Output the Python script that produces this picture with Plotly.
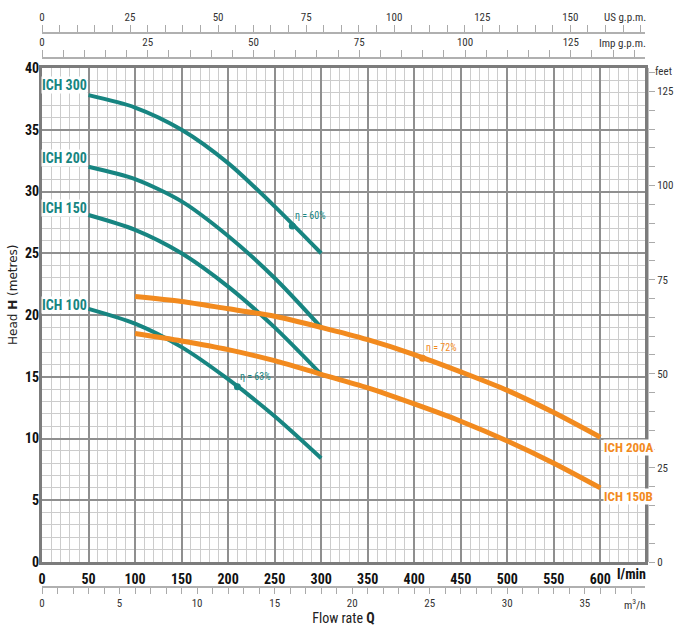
import plotly.graph_objects as go

# ---------------- data ----------------
q_ich = [50, 100, 150, 200, 250, 300]            # l/min
h_ich300 = [37.8, 36.8, 35.0, 32.3, 28.8, 25.0]  # m
h_ich200 = [32.0, 31.0, 29.2, 26.4, 23.0, 19.0]
h_ich150 = [28.1, 26.9, 25.0, 22.3, 19.0, 15.2]
h_ich100 = [20.5, 19.3, 17.4, 14.8, 11.8, 8.4]

q_ich_ab = [100, 150, 200, 250, 300, 350, 400, 450, 500, 550, 600]
h_ich200a = [21.5, 21.1, 20.5, 19.9, 19.0, 18.0, 16.8, 15.4, 13.9, 12.1, 10.1]
h_ich150b = [18.5, 17.9, 17.2, 16.3, 15.2, 14.1, 12.8, 11.4, 9.8, 8.0, 6.0]

teal_names = ["ICH 300", "ICH 200", "ICH 150", "ICH 100"]
teal_label_h = [38.6, 32.7, 28.7, 20.8]
orange_names = ["ICH 200A", "ICH 150B"]
orange_label_h = [9.3, 5.3]

eff_q = [269, 210, 409]
eff_h = [27.2, 14.2, 16.5]
eff_text = ["η = 60%", "η = 63%", "η = 72%"]

q_max = 648      # l/min
h_max = 40       # m
LPM_PER_USGPM = 3.785
LPM_PER_IMPGPM = 4.546
LPM_PER_M3H = 16.667
FT_PER_M = 3.2808

TEAL = "#178581"
ORANGE = "#f28a1e"
NARROW = "Liberation Sans Narrow, Roboto Condensed, DejaVu Sans Condensed, sans-serif"

# ---------------- geometry ----------------
W, H = 676, 628
ML = 42
PW = W - ML
def px_x(p):
    return (p - ML) / PW
def px_y(p):
    return (H - p) / H

x_dom = [0, px_x(645)]
y_dom = [px_y(562), px_y(68)]

fig = go.Figure()

teal_series = [h_ich300, h_ich200, h_ich150, h_ich100]
for name, hs in zip(teal_names, teal_series):
    fig.add_trace(go.Scatter(x=q_ich, y=hs, mode="lines", name=name,
                             line=dict(color=TEAL, width=4, shape="spline", smoothing=0.8),
                             showlegend=False))
for name, hs in zip(orange_names, [h_ich200a, h_ich150b]):
    fig.add_trace(go.Scatter(x=q_ich_ab, y=hs, mode="lines", name=name,
                             line=dict(color=ORANGE, width=5, shape="spline", smoothing=0.8),
                             showlegend=False))

eff_colors = [TEAL, TEAL, ORANGE]
fig.add_trace(go.Scatter(x=eff_q, y=eff_h, mode="markers",
                         marker=dict(color=eff_colors, size=7, symbol="circle"),
                         showlegend=False, hoverinfo="skip"))

# dummy traces so the secondary axes are rendered
for xa, ya in [("x2", "y"), ("x3", "y"), ("x4", "y"), ("x", "y2")]:
    fig.add_trace(go.Scatter(x=[None], y=[None], xaxis=xa, yaxis=ya,
                             showlegend=False, hoverinfo="skip"))

annotations = []
for name, hl in zip(teal_names, teal_label_h):
    annotations.append(dict(x=49, y=hl, xref="x", yref="y", text="<b>%s</b>" % name,
                            showarrow=False, xanchor="right", yanchor="middle",
                            font=dict(family=NARROW, size=14, color=TEAL),
                            bgcolor="white", borderpad=0))
for name, hl in zip(orange_names, orange_label_h):
    annotations.append(dict(x=603, y=hl, xref="x", yref="y", text="<b>%s</b>" % name,
                            showarrow=False, xanchor="left", yanchor="middle",
                            font=dict(family=NARROW, size=13, color=ORANGE),
                            bgcolor="white", borderpad=0))
for q, hh, t, c in zip(eff_q, eff_h, eff_text, eff_colors):
    annotations.append(dict(x=q, y=hh, xref="x", yref="y", text=t, showarrow=False,
                            xanchor="left", yanchor="bottom", xshift=1, yshift=3,
                            font=dict(family=NARROW, size=10, color=c)))

annotations += [
    dict(x=px_x(648), y=px_y(17), xref="paper", yref="paper", text="US g.p.m.",
         showarrow=False, xanchor="right", yanchor="middle",
         font=dict(family=NARROW, size=11, color="#333")),
    dict(x=px_x(648), y=px_y(44), xref="paper", yref="paper", text="Imp g.p.m.",
         showarrow=False, xanchor="right", yanchor="middle",
         font=dict(family=NARROW, size=11, color="#333")),
    dict(x=px_x(648), y=px_y(574), xref="paper", yref="paper", text="<b>l/min</b>",
         showarrow=False, xanchor="right", yanchor="middle",
         font=dict(family=NARROW, size=14, color="#111")),
    dict(x=px_x(648), y=px_y(604), xref="paper", yref="paper", text="m<sup>3</sup>/h",
         showarrow=False, xanchor="right", yanchor="middle",
         font=dict(family=NARROW, size=11, color="#333")),
    dict(x=px_x(653), y=px_y(72), xref="paper", yref="paper", text="feet",
         showarrow=False, xanchor="left", yanchor="middle",
         font=dict(family=NARROW, size=11, color="#333")),
    dict(x=px_x(13), y=px_y(295), xref="paper", yref="paper",
         text="Head <b>H</b> (metres)", textangle=-90,
         showarrow=False, xanchor="center", yanchor="middle",
         font=dict(family="DejaVu Sans", size=12, color="#222")),
]

sec_font = dict(family=NARROW, size=11, color="#333")

fig.update_layout(
    width=W, height=H,
    margin=dict(l=ML, r=0, t=0, b=0, autoexpand=False),
    paper_bgcolor="white", plot_bgcolor="white",
    annotations=annotations,
    xaxis=dict(domain=x_dom, range=[0, q_max], dtick=50, tick0=0,
               showgrid=True, gridcolor="#8f8f8f", gridwidth=1.5,
               minor=dict(dtick=10, showgrid=True, gridcolor="#cccccc", gridwidth=1),
               showline=True, linecolor="#7c7c7c", linewidth=3, mirror=True,
               ticks="", zeroline=False, automargin=False,
               tickfont=dict(family=NARROW, size=14, color="#111"),
               tickprefix="<b>", ticksuffix="</b>", ticklabelstandoff=2),
    yaxis=dict(domain=y_dom, range=[0, h_max], dtick=5, tick0=0,
               showgrid=True, gridcolor="#8f8f8f", gridwidth=1.5,
               minor=dict(dtick=1, showgrid=True, gridcolor="#cccccc", gridwidth=1),
               showline=True, linecolor="#7c7c7c", linewidth=3, mirror=True,
               ticks="", zeroline=False, automargin=False,
               tickfont=dict(family=NARROW, size=14, color="#111"),
               tickprefix="<b>", ticksuffix="</b>", ticklabelstandoff=-3),
    xaxis2=dict(overlaying="x", anchor="free", position=px_y(33), side="top",
                domain=x_dom, range=[0, q_max / LPM_PER_USGPM], dtick=25, tick0=0,
                ticks="outside", ticklen=7, tickcolor="#aaaaaa", tickwidth=1,
                minor=dict(dtick=5, ticks="outside", ticklen=7, tickcolor="#aaaaaa"),
                showline=True, linecolor="#b0b0b0", linewidth=2,
                showgrid=False, zeroline=False, automargin=False, tickfont=sec_font),
    xaxis3=dict(overlaying="x", anchor="free", position=px_y(58), side="top",
                domain=x_dom, range=[0, q_max / LPM_PER_IMPGPM], dtick=25, tick0=0,
                ticks="outside", ticklen=7, tickcolor="#aaaaaa", tickwidth=1,
                minor=dict(dtick=5, ticks="outside", ticklen=7, tickcolor="#aaaaaa"),
                showline=True, linecolor="#b0b0b0", linewidth=2,
                showgrid=False, zeroline=False, automargin=False, tickfont=sec_font),
    xaxis4=dict(overlaying="x", anchor="free", position=px_y(587), side="bottom",
                domain=x_dom, range=[0, q_max / LPM_PER_M3H], dtick=5, tick0=0,
                ticks="outside", ticklen=6, tickcolor="#aaaaaa", tickwidth=1,
                minor=dict(dtick=1, ticks="outside", ticklen=6, tickcolor="#aaaaaa"),
                showline=True, linecolor="#b0b0b0", linewidth=2,
                showgrid=False, zeroline=False, automargin=False, tickfont=sec_font,
                title=dict(text="Flow rate <b>Q</b>", standoff=3,
                           font=dict(family=NARROW, size=14, color="#222"))),
    yaxis2=dict(overlaying="y", anchor="free", position=px_x(648), side="right",
                domain=y_dom, range=[0, h_max * FT_PER_M], dtick=25, tick0=0,
                ticks="outside", ticklen=6, tickcolor="#aaaaaa", tickwidth=1,
                minor=dict(dtick=5, ticks="outside", ticklen=6, tickcolor="#aaaaaa"),
                showline=True, linecolor="#c0c0c0", linewidth=1,
                showgrid=False, zeroline=False, automargin=False, tickfont=sec_font),
)

fig.write_html("out.html")
